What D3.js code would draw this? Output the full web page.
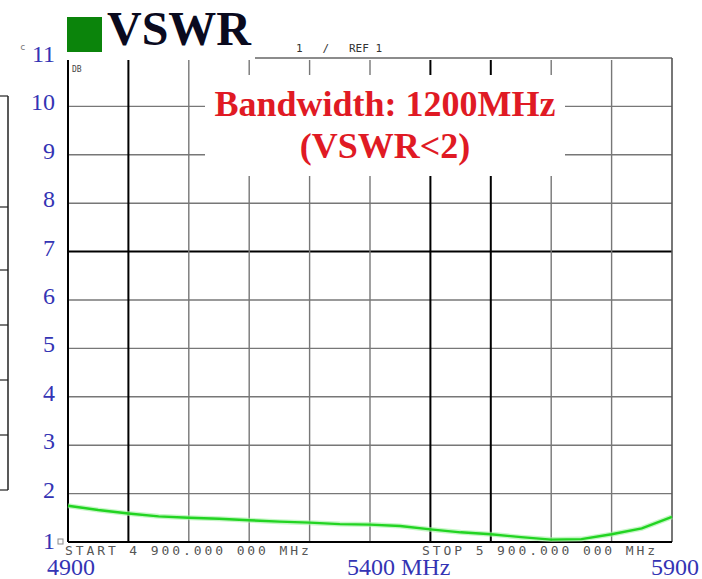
<!DOCTYPE html>
<html>
<head>
<meta charset="utf-8">
<script src="https://cdn.jsdelivr.net/npm/d3@7"></script>
<style>
  body { margin: 0; background: #fff; }
  svg { display: block; }
</style>
</head>
<body>
<svg id="chart" width="702" height="579"></svg>
<script>
// VSWR trace
const freqs = [4900, 4950, 5000, 5050, 5100, 5150, 5200, 5250, 5300, 5350, 5400,
               5450, 5500, 5550, 5600, 5650, 5700, 5750, 5800, 5850, 5900];
const vswr = [1.75, 1.66, 1.59, 1.53, 1.50, 1.48, 1.45, 1.42, 1.40, 1.37, 1.36,
              1.33, 1.26, 1.20, 1.16, 1.10, 1.05, 1.06, 1.16, 1.28, 1.52];
const yTicks = [1, 2, 3, 4, 5, 6, 7, 8, 9, 10, 11];
const xGrid = [5000, 5100, 5200, 5300, 5400, 5500, 5600, 5700, 5800];
const boldX = [5000, 5500, 5600];
const xLabels = ["4900", "5400 MHz", "5900"];
const xLabelFreqs = [4900, 5400, 5900];
const startText = "START 4 900.000 000 MHz";
const stopText = "STOP 5 900.000 000 MHz";

const svg = d3.select("#chart");
const serif = "'Liberation Serif', 'Times New Roman', serif";
const mono = "'DejaVu Sans Mono', monospace";

const x = d3.scaleLinear().domain([4900, 5900]).range([68, 672]);
const y = d3.scaleLinear().domain([1, 11]).range([542, 58]);

// stray frame of the neighbouring figure on the left edge
svg.append("line").attr("x1", 8).attr("x2", 8).attr("y1", 96).attr("y2", 490)
  .attr("stroke", "#222").attr("stroke-width", 1.5);
svg.selectAll("line.stray")
  .data([96, 207, 270, 325, 380, 435, 490])
  .join("line")
  .attr("class", "stray")
  .attr("x1", 0).attr("x2", 8)
  .attr("y1", d => d).attr("y2", d => d)
  .attr("stroke", "#222").attr("stroke-width", 1.2);

// horizontal grid
svg.selectAll("line.hgrid")
  .data(yTicks.slice(1, -1))
  .join("line")
  .attr("class", "hgrid")
  .attr("x1", x(4900)).attr("x2", x(5900))
  .attr("y1", d => y(d)).attr("y2", d => y(d))
  .attr("stroke", d => d === 7 ? "#000" : "#777")
  .attr("stroke-width", d => d === 7 ? 2 : 1.4);

// vertical grid
svg.selectAll("line.vgrid")
  .data(xGrid)
  .join("line")
  .attr("class", "vgrid")
  .attr("x1", d => x(d)).attr("x2", d => x(d))
  .attr("y1", y(11) + 2).attr("y2", y(1))
  .attr("stroke", d => boldX.includes(d) ? "#000" : "#777")
  .attr("stroke-width", d => boldX.includes(d) ? 2 : 1.4);

// frame: top line only right of the title
svg.append("line").attr("x1", 255).attr("x2", x(5900))
  .attr("y1", y(11)).attr("y2", y(11)).attr("stroke", "#666").attr("stroke-width", 1.4);
svg.append("line").attr("x1", x(5900)).attr("x2", x(5900))
  .attr("y1", y(11)).attr("y2", y(1)).attr("stroke", "#555").attr("stroke-width", 1.6);
svg.append("line").attr("x1", x(4900)).attr("x2", x(4900))
  .attr("y1", y(11) + 2).attr("y2", y(1)).attr("stroke", "#000").attr("stroke-width", 2);
svg.append("line").attr("x1", x(4900)).attr("x2", x(5900))
  .attr("y1", y(1)).attr("y2", y(1)).attr("stroke", "#000").attr("stroke-width", 2);

// white patch behind the annotation
svg.append("rect").attr("x", 205).attr("y", 75).attr("width", 360).attr("height", 101)
  .attr("fill", "#fff");

// trace
const line = d3.line().x((d, i) => x(freqs[i])).y(d => y(d));
svg.append("path").datum(vswr)
  .attr("d", line).attr("fill", "none")
  .attr("stroke", "#9ef09e").attr("stroke-width", 5).attr("stroke-opacity", 0.6);
svg.append("path").datum(vswr)
  .attr("d", line).attr("fill", "none")
  .attr("stroke", "#22d422").attr("stroke-width", 2.4);

// y labels
svg.selectAll("text.ylab")
  .data(yTicks)
  .join("text")
  .attr("class", "ylab")
  .attr("x", 55)
  .attr("y", d => y(d) + (d === 1 ? 7 : 4))
  .attr("text-anchor", "end")
  .attr("font-family", serif)
  .attr("font-size", 24)
  .attr("fill", "#3434b4")
  .text(d => d);

// title
svg.append("rect").attr("x", 67).attr("y", 17).attr("width", 35).attr("height", 35)
  .attr("fill", "#0b840b");
svg.append("text").attr("x", 107).attr("y", 45)
  .attr("font-family", serif).attr("font-weight", "bold").attr("font-size", 48)
  .attr("fill", "#0a0a1e").text("VSWR");

// small instrument texts
svg.append("text").attr("x", 20).attr("y", 50)
  .attr("font-family", mono).attr("font-size", 9).attr("fill", "#777").text("c");
svg.append("text").attr("x", 72).attr("y", 72)
  .attr("font-family", mono).attr("font-size", 8).attr("fill", "#444").text("DB");
svg.append("text").attr("x", 296).attr("y", 52)
  .attr("font-family", mono).attr("font-size", 11).attr("fill", "#333")
  .attr("xml:space", "preserve").text("1   /   REF 1");
svg.append("rect").attr("x", 58).attr("y", 539).attr("width", 5).attr("height", 5)
  .attr("fill", "none").attr("stroke", "#888").attr("stroke-width", 1);

svg.append("text").attr("x", 65).attr("y", 555)
  .attr("font-family", mono).attr("font-size", 13).attr("letter-spacing", 2.9)
  .attr("fill", "#555").attr("xml:space", "preserve").text(startText);
svg.append("text").attr("x", 422).attr("y", 555)
  .attr("font-family", mono).attr("font-size", 13).attr("letter-spacing", 2.9)
  .attr("fill", "#555").attr("xml:space", "preserve").text(stopText);

// x labels
svg.selectAll("text.xlab")
  .data(xLabelFreqs)
  .join("text")
  .attr("class", "xlab")
  .attr("x", (d, i) => i === 1 ? x(d) - 23 : x(d) + 3)
  .attr("y", 575)
  .attr("text-anchor", (d, i) => i === 1 ? "start" : "middle")
  .attr("font-family", serif)
  .attr("font-size", 24)
  .attr("fill", "#3434b4")
  .text((d, i) => xLabels[i]);

// annotation
svg.append("text").attr("x", 385).attr("y", 116)
  .attr("text-anchor", "middle")
  .attr("font-family", serif).attr("font-weight", "bold").attr("font-size", 36)
  .attr("fill", "#e01a24").text("Bandwidth: 1200MHz");
svg.append("text").attr("x", 385).attr("y", 158)
  .attr("text-anchor", "middle")
  .attr("font-family", serif).attr("font-weight", "bold").attr("font-size", 36)
  .attr("fill", "#e01a24").text("(VSWR<2)");
</script>
</body>
</html>
